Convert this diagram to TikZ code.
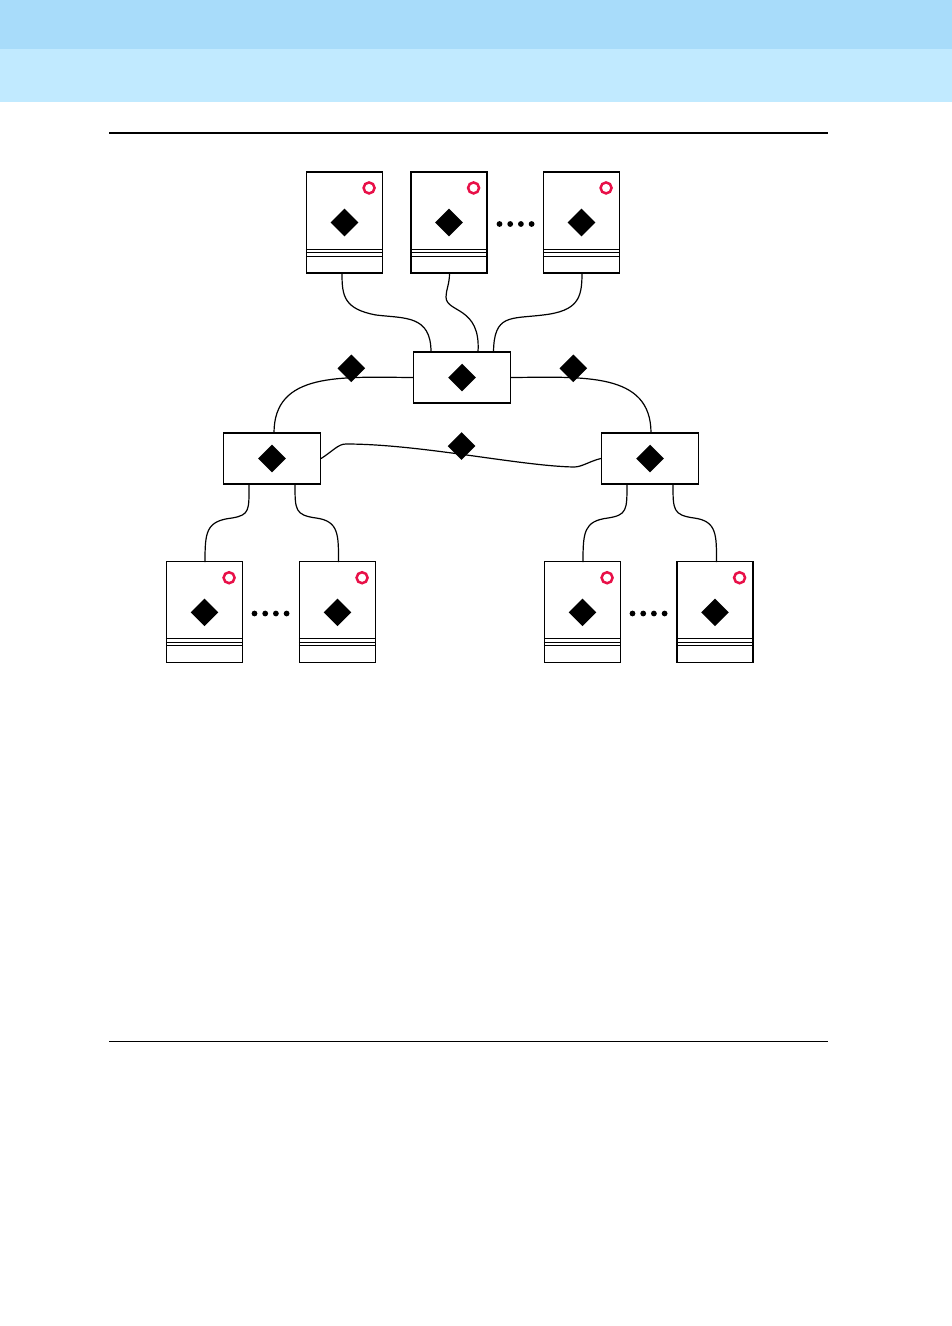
\documentclass[tikz,border=0pt]{standalone}
\usetikzlibrary{shapes.geometric,positioning,calc}
\definecolor{bandtop}{RGB}{168,220,250}
\definecolor{bandlow}{RGB}{193,234,255}
\definecolor{mark}{RGB}{232,16,72}
\tikzset{
  every picture/.style={line width=1.15pt, line cap=butt, line join=miter, x=1pt, y=-1pt},
  % Kästen
  server/.style={draw, rectangle, inner sep=0pt, minimum width=76pt, minimum height=101pt},
  hub/.style={draw, rectangle, inner sep=0pt, minimum width=97pt, minimum height=51pt},
  % Markierungen
  gem/.style={diamond, fill=black, inner sep=0pt, minimum width=28pt, minimum height=28pt},
  ring/.style={circle, draw=mark, line width=2.5pt, inner sep=0pt, minimum size=11pt},
  pip/.style={circle, fill=black, inner sep=0pt, minimum size=5.8pt},
  link/.style={line width=1.2pt},
  rule/.style={line width=#1},
}
\newcommand{\serverparts}[1]{%
  \node[gem] (#1g) at (#1.center) {};
  \node[ring] (#1r) at ($(#1.north east)+(-14,16.5)$) {};
  \draw ($(#1.south west)+(0,-24.5)$) -- ($(#1.south east)+(0,-24.5)$);
  \draw ($(#1.south west)+(0,-21)$) -- ($(#1.south east)+(0,-21)$);
  \draw ($(#1.south west)+(0,-17.5)$) -- ($(#1.south east)+(0,-17.5)$);
}
\newcommand{\pips}[1]{%
  \foreach \i in {0,1,2,3}
    \node[pip] (#1\i) at ($(#1)+(\i*10.7-16,0)$) {};
}
\begin{document}
\begin{tikzpicture}
  \useasboundingbox (0,0) rectangle (952,1326);
  % Kopfbalken
  \fill[bandtop] (0,0) rectangle (952,49);
  \fill[bandlow] (0,49) rectangle (952,102);
  \draw[rule=2pt] (109,133) -- (828,133);
  \draw[rule=1pt] (109,1041.5) -- (828,1041.5);
  % Server oben
  \foreach \n/\x in {a/344.5,b/449,c/581.5} {
    \node[server] (\n) at (\x,222.5) {};
    \serverparts{\n}
  }
  % Server unten
  \foreach \n/\x in {d/204.5,e/337.5,f/582.5,g/715} {
    \node[server] (\n) at (\x,612.3) {};
    \serverparts{\n}
  }
  % Verteiler
  \node[hub] (top) at (462,377.5) {};
  \node[hub] (left) at (272,458.5) {};
  \node[hub] (right) at (650,458.5) {};
  \node[gem] (topg) at (top.center) {};
  \node[gem] (leftg) at (left.center) {};
  \node[gem] (rightg) at (right.center) {};
  % Punkte
  \coordinate (p1) at (515.5,224);
  \coordinate (p2) at (270.5,613.5);
  \coordinate (p3) at (648.5,613.5);
  \pips{p1}
  \pips{p2}
  \pips{p3}
  % Leitungen
  \draw[link] (a.south-|342,0) .. controls (342,296) and (344,309) .. (376,315)
    .. controls (405,318.5) and (431,315) .. (431,352);
  \draw[link] (b.south-|449.5,0) .. controls (449.5,284) and (446,290) .. (446,297)
    .. controls (446,313) and (481,306) .. (478,352);
  \draw[link] (c.south-|582,0) .. controls (582,298) and (578,311) .. (543,315)
    .. controls (510,319) and (494,314) .. (493.5,352);
  \draw[link] (top.west) .. controls (340,377) and (274,372) .. (274,433);
  \draw[link] (top.east) .. controls (584,377) and (651,372) .. (651,433);
  \draw[link] (left.east) .. controls (333,451) and (338,444) .. (346,444)
    .. controls (420,444) and (520,466) .. (574,467)
    .. controls (582,467) and (590,461) .. (right.west);
  \draw[link] (249,484) .. controls (249,510) and (250,515) .. (232,518)
    .. controls (206,521) and (205,532) .. (205,562);
  \draw[link] (295,484) .. controls (295,510) and (295,515) .. (316,518)
    .. controls (339,521) and (338.5,535) .. (338.5,562);
  \draw[link] (627,484) .. controls (627,510) and (627,515) .. (608,518)
    .. controls (584,521) and (583,532) .. (583,562);
  \draw[link] (673,484) .. controls (673,510) and (673,515) .. (694,518)
    .. controls (717,521) and (716.5,535) .. (716.5,562);
  % Marken auf den Leitungen
  \node[gem] (m1) at (351.3,368.3) {};
  \node[gem] (m2) at (573.3,368.3) {};
  \node[gem] (m3) at (461.5,446) {};
\end{tikzpicture}
\end{document}
